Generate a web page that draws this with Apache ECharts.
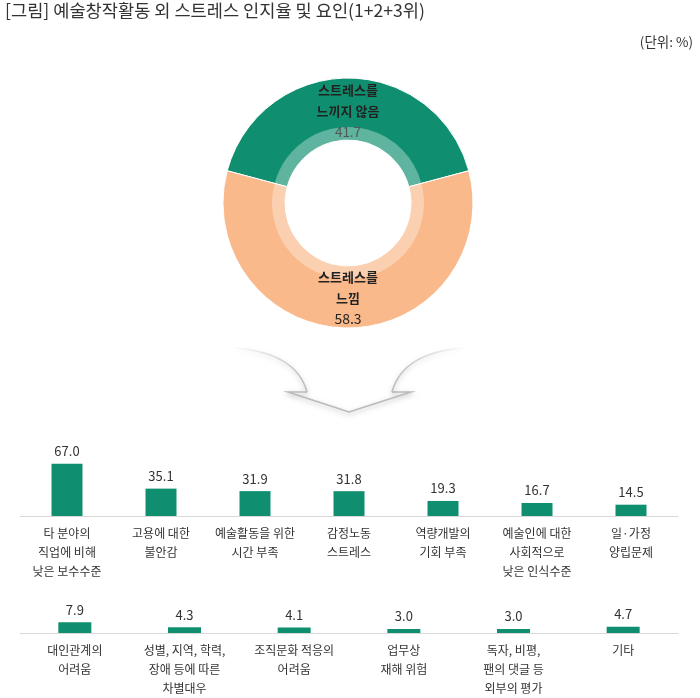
<!DOCTYPE html>
<html>
<head>
<meta charset="utf-8">
<script src="https://cdn.jsdelivr.net/npm/echarts@6/dist/echarts.min.js"></script>
<style>
  html, body { margin: 0; padding: 0; background: #fff; }
  #chart { width: 700px; height: 698px; }
</style>
</head>
<body>
<div id="chart"></div>
<script>
// 도넛: 스트레스 인지율
const pieNames = ['스트레스를\n느끼지 않음', '스트레스를\n느낌']
const pieValues = [41.7, 58.3]
const pieColors = ['#0f8f6f', '#f9b98b']

// 막대 1행
const row1Cats = ['타 분야의\n직업에 비해\n낮은 보수수준', '고용에 대한\n불안감', '예술활동을 위한\n시간 부족',
  '감정노동\n스트레스', '역량개발의\n기회 부족', '예술인에 대한\n사회적으로\n낮은 인식수준', '일·가정\n양립문제']
const row1Values = [67.0, 35.1, 31.9, 31.8, 19.3, 16.7, 14.5]

// 막대 2행
const row2Cats = ['대인관계의\n어려움', '성별, 지역, 학력,\n장애 등에 따른\n차별대우', '조직문화 적응의\n어려움',
  '업무상\n재해 위험', '독자, 비평,\n팬의 댓글 등\n외부의 평가', '기타']
const row2Values = [7.9, 4.3, 4.1, 3.0, 3.0, 4.7]

const FONT = '"Noto Sans CJK KR", "Noto Sans", sans-serif'
const barColor = '#0f8f6f'
const pieCenter = [348, 203]
const pieStart = 90 + pieValues[0] * 3.6 / 2

const chart = echarts.init(document.getElementById('chart'))

const xAxisCommon = (idx, cats) => ({
  type: 'category',
  gridIndex: idx,
  data: cats,
  axisLine: { lineStyle: { color: '#d9d9d9', width: 1 } },
  axisTick: { show: false },
  axisLabel: { interval: 0, fontFamily: FONT, fontSize: 12, lineHeight: 19, color: '#333', margin: 8 }
})

const barSeries = (idx, values, width) => ({
  type: 'bar',
  xAxisIndex: idx,
  yAxisIndex: idx,
  data: values,
  barWidth: width,
  itemStyle: { color: barColor },
  label: {
    show: true,
    position: 'top',
    distance: 6,
    fontFamily: FONT,
    fontSize: 13,
    color: '#333',
    formatter: p => p.value.toFixed(1)
  },
  silent: true
})

// 화살표 선 스타일
const fade = (reverse) => ({
  type: 'linear', x: 0, y: 0, x2: 1, y2: 0,
  colorStops: reverse
    ? [{ offset: 0, color: '#bbb' }, { offset: 1, color: 'rgba(200,200,200,0)' }]
    : [{ offset: 0, color: 'rgba(200,200,200,0)' }, { offset: 1, color: '#bbb' }]
})
const arrowStyle = stroke => ({
  fill: 'none',
  stroke: stroke,
  lineWidth: 1.6,
  shadowBlur: 5,
  shadowColor: 'rgba(0,0,0,0.25)',
  shadowOffsetY: 2
})

const option = {
  animation: false,
  backgroundColor: '#fff',
  textStyle: { fontFamily: FONT },
  grid: [
    { left: 20, width: 658, top: 438, height: 78 },
    { left: 20, width: 658, top: 579, height: 58 }
  ],
  xAxis: [xAxisCommon(0, row1Cats), xAxisCommon(1, row2Cats)],
  yAxis: [
    { type: 'value', gridIndex: 0, min: 0, max: 100, show: false },
    { type: 'value', gridIndex: 1, min: 0, max: 40, show: false }
  ],
  graphic: [
    {
      type: 'text', left: 5, top: 2,
      style: { text: '[그림] 예술창작활동 외 스트레스 인지율 및 요인(1+2+3위)', font: '17.6px ' + FONT, fill: '#333' }
    },
    {
      type: 'text', x: 693, y: 42,
      style: { text: '(단위: %)', font: '13.5px ' + FONT, fill: '#333', align: 'right', verticalAlign: 'middle' }
    },
    {
      type: 'bezierCurve',
      shape: { x1: 233, y1: 348, cpx1: 296, cpy1: 352, x2: 307, y2: 392 },
      style: arrowStyle(fade(false))
    },
    {
      type: 'polyline',
      shape: { points: [[307, 392], [288, 392], [349, 412], [411, 392], [392, 392]] },
      style: arrowStyle('#bbb')
    },
    {
      type: 'bezierCurve',
      shape: { x1: 392, y1: 392, cpx1: 403, cpy1: 352, x2: 465, y2: 348 },
      style: arrowStyle(fade(true))
    }
  ],
  series: [
    {
      type: 'pie',
      center: pieCenter,
      radius: [63, 125],
      startAngle: pieStart,
      silent: true,
      itemStyle: { borderColor: '#fff', borderWidth: 1 },
      label: { show: false },
      labelLine: { show: false },
      data: pieValues.map((v, i) => ({ name: pieNames[i], value: v, itemStyle: { color: pieColors[i] } })),
      z: 1
    },
    {
      // 안쪽 밝은 링
      type: 'pie',
      center: pieCenter,
      radius: [63, 76],
      startAngle: pieStart,
      silent: true,
      label: { show: false },
      labelLine: { show: false },
      itemStyle: { color: 'rgba(255,255,255,0.33)', borderWidth: 0 },
      data: pieValues.map((v, i) => ({ name: pieNames[i], value: v })),
      z: 2
    },
    {
      // 라벨 전용
      type: 'pie',
      center: pieCenter,
      radius: [63, 125],
      startAngle: pieStart,
      silent: true,
      itemStyle: { color: 'rgba(0,0,0,0)' },
      labelLine: { show: false },
      label: {
        show: true,
        position: 'inside',
        formatter: p => {
          const lines = p.name.split('\n').map(s => '{b|' + s + '}')
          const key = p.dataIndex === 0 ? 'g' : 'd'
          return lines.join('\n') + '\n{' + key + '|' + p.value.toFixed(1) + '}'
        },
        rich: {
          b: { fontFamily: FONT, fontSize: 13, fontWeight: 'bold', color: '#222', lineHeight: 21 },
          g: { fontFamily: FONT, fontSize: 13.5, color: '#555', lineHeight: 21 },
          d: { fontFamily: FONT, fontSize: 14, color: '#222', lineHeight: 21 }
        }
      },
      data: pieValues.map((v, i) => ({
        name: pieNames[i], value: v,
        label: { offset: i === 0 ? [0, 5] : [0, -2] }
      })),
      z: 3
    },
    barSeries(0, row1Values, 31),
    barSeries(1, row2Values, 33)
  ]
}

chart.setOption(option)
</script>
</body>
</html>
